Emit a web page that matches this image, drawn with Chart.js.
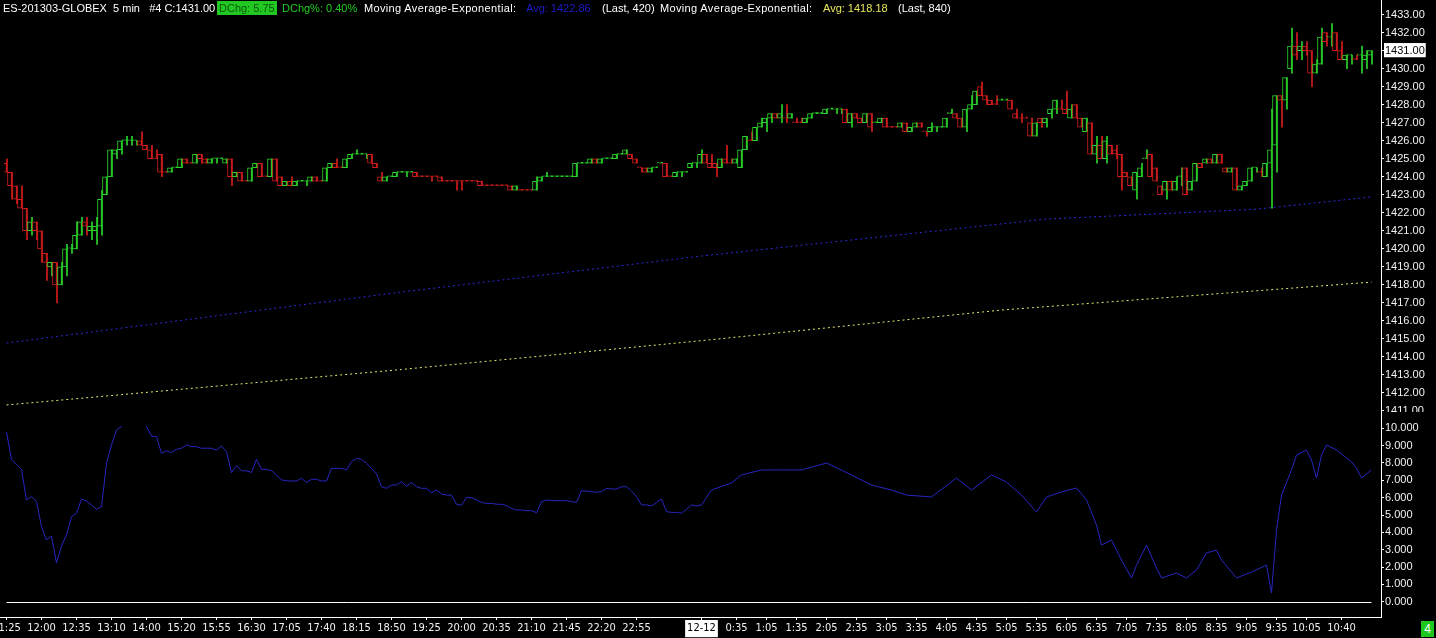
<!DOCTYPE html>
<html>
<head>
<meta charset="utf-8">
<script src="https://cdn.jsdelivr.net/npm/chart.js@4.4.0/dist/chart.umd.min.js"></script>
<style>
  html, body { margin: 0; padding: 0; background: #000; }
  body { width: 1436px; height: 638px; position: relative; overflow: hidden; font-family: "Liberation Sans", Arial, sans-serif; }
  #priceCanvas { position: absolute; left: 0; top: 0; }
  #oscCanvas { position: absolute; left: 0; top: 412px; }
  .hdr { position: absolute; top: 1px; font-size: 11px; line-height: 14px; color: #fff; white-space: pre; }
  .wide { letter-spacing: 0.35px; }
  .dchg { background: #22c822; color: #0a5a0a; padding: 0 2px; }
  .green { color: #22cc22; }
  .blue { color: #1c1cc8; }
  .yellow { color: #e6e65a; }
  #barCount { position: absolute; left: 1421px; top: 621px; width: 13px; height: 16px; background: #1fc81f; color: #fff; font-size: 12px; line-height: 16px; text-align: center; }
</style>
</head>
<body>
<canvas id="priceCanvas" width="1436" height="412" style="width:1436px;height:412px"></canvas>
<canvas id="oscCanvas" width="1436" height="226" style="width:1436px;height:226px"></canvas>

<div class="hdr" style="left:3px">ES-201303-GLOBEX  5 min   #4 C:1431.00</div>
<div class="hdr dchg" style="left:217px">DChg: 5.75</div>
<div class="hdr green" style="left:282px">DChg%: 0.40%</div>
<div class="hdr wide" style="left:364px">Moving Average-Exponential:</div>
<div class="hdr blue" style="left:526px">Avg: 1422.86</div>
<div class="hdr" style="left:602px">(Last, 420)</div>
<div class="hdr wide" style="left:660px">Moving Average-Exponential:</div>
<div class="hdr yellow" style="left:823px">Avg: 1418.18</div>
<div class="hdr" style="left:898px">(Last, 840)</div>
<div id="barCount">4</div>

<script>
// 5 minute bars, sessions of 11-12 and 12-12 (gaps = trading halts)
const sessions = [['11:25', '13:10'], ['13:30', '14:10'], ['15:00', '23:55'], ['0:00', '11:10']];

const xTickLabels = ['11:25', '12:00', '12:35', '13:10', '14:00', '15:20', '15:55', '16:30', '17:05', '17:40',
  '18:15', '18:50', '19:25', '20:00', '20:35', '21:10', '21:45', '22:20', '22:55', '12-12',
  '0:35', '1:05', '1:35', '2:05', '2:35', '3:05', '3:35', '4:05', '4:35', '5:05', '5:35', '6:05',
  '6:35', '7:05', '7:35', '8:05', '8:35', '9:05', '9:35', '10:05', '10:40'];

// OHLC, bar by bar
const opens = [
  1424.75, 1424.25, 1423.5, 1422.75, 1422.25, 1421.0, 1421.5, 1421.0, 1419.75, 1419.0,
  1419.25, 1418.0, 1419.0, 1420.0, 1420.0, 1420.75, 1421.5, 1421.0, 1421.0, 1421.25,
  1423.0, 1424.0, 1425.25, 1425.5, 1426.0, 1426.0, 1426.0, 1426.0, 1425.75, 1425.5,
  1425.0, 1425.25, 1424.25, 1424.25, 1424.5, 1424.5, 1425.0, 1424.75, 1424.75, 1425.25,
  1425.0, 1424.75, 1425.0, 1425.0, 1424.75, 1425.0, 1424.0, 1424.25, 1423.75, 1423.75,
  1424.5, 1424.75, 1424.0, 1424.0, 1425.0, 1424.0, 1423.5, 1423.75, 1423.5, 1423.75,
  1423.75, 1423.75, 1424.0, 1423.75, 1423.75, 1424.5, 1424.75, 1424.5, 1424.5, 1425.0,
  1425.25, 1425.25, 1425.25, 1425.25, 1424.75, 1424.0, 1423.75, 1424.0, 1424.0, 1424.25,
  1424.25, 1424.25, 1424.25, 1424.0, 1424.0, 1424.0, 1424.0, 1424.0, 1423.75, 1423.75,
  1423.75, 1423.75, 1423.75, 1423.75, 1423.75, 1423.75, 1423.5, 1423.5, 1423.5, 1423.5,
  1423.5, 1423.5, 1423.25, 1423.25, 1423.25, 1423.25, 1423.25, 1423.75, 1424.0, 1424.0,
  1424.0, 1424.0, 1424.0, 1424.0, 1424.0, 1424.75, 1424.75, 1424.75, 1425.0, 1424.75,
  1425.0, 1425.0, 1425.0, 1425.25, 1425.25, 1425.25, 1425.0, 1424.5, 1424.5, 1424.25,
  1424.5, 1424.75, 1424.75, 1424.0, 1424.0, 1424.25, 1424.25, 1424.5, 1424.75, 1424.75,
  1425.25, 1424.75, 1424.75, 1424.5, 1425.0, 1424.75, 1424.75, 1424.5, 1425.5, 1426.0,
  1426.0, 1426.75, 1427.0, 1427.25, 1427.5, 1427.25, 1427.25, 1427.25, 1427.0, 1427.0,
  1427.0, 1427.25, 1427.5, 1427.5, 1427.5, 1427.75, 1427.75, 1427.75, 1427.75, 1427.0,
  1427.5, 1427.25, 1427.0, 1427.5, 1427.0, 1427.0, 1427.25, 1426.75, 1426.75, 1426.75,
  1427.0, 1426.5, 1426.75, 1427.0, 1426.5, 1426.5, 1426.75, 1426.75, 1426.75, 1427.5,
  1427.5, 1427.25, 1426.75, 1427.75, 1428.0, 1429.0, 1428.5, 1428.25, 1428.0, 1428.25,
  1428.25, 1428.25, 1427.5, 1427.25, 1427.25, 1427.0, 1426.25, 1427.25, 1427.0, 1427.5,
  1427.75, 1427.75, 1427.75, 1427.25, 1428.0, 1427.25, 1426.5, 1427.0, 1425.25, 1425.75,
  1425.0, 1425.75, 1425.5, 1425.25, 1424.25, 1424.0, 1423.25, 1424.0, 1425.0, 1425.25,
  1424.5, 1423.5, 1423.25, 1423.75, 1423.25, 1424.0, 1424.5, 1423.25, 1423.75, 1424.75,
  1424.75, 1425.0, 1424.75, 1425.25, 1424.5, 1424.25, 1424.5, 1423.25, 1423.5, 1423.75,
  1424.5, 1424.25, 1424.0, 1424.75, 1425.75, 1428.5, 1428.25, 1430.0, 1431.25, 1431.0,
  1431.25, 1431.0, 1429.75, 1430.25, 1432.0, 1431.75, 1432.0, 1431.0, 1430.5, 1430.75,
  1430.5, 1430.75, 1430.5, 1430.75
];
const highs = [
  1425.0, 1424.25, 1423.5, 1423.5, 1422.25, 1421.75, 1421.5, 1421.0, 1419.75, 1419.25,
  1419.25, 1419.25, 1420.25, 1420.25, 1421.5, 1421.75, 1421.75, 1421.5, 1421.75, 1423.25,
  1424.0, 1425.5, 1425.5, 1426.0, 1426.25, 1426.25, 1426.0, 1426.5, 1425.75, 1425.75,
  1425.5, 1425.25, 1424.25, 1424.5, 1424.5, 1425.0, 1425.0, 1424.75, 1425.25, 1425.25,
  1425.0, 1425.0, 1425.0, 1425.0, 1425.0, 1425.0, 1424.25, 1424.25, 1423.75, 1424.5,
  1424.75, 1424.75, 1424.0, 1425.0, 1425.0, 1424.0, 1423.75, 1424.0, 1423.75, 1423.75,
  1423.75, 1424.0, 1424.0, 1423.75, 1424.5, 1424.75, 1425.0, 1424.5, 1425.0, 1425.25,
  1425.5, 1425.25, 1425.25, 1425.25, 1424.75, 1424.25, 1424.0, 1424.0, 1424.25, 1424.25,
  1424.25, 1424.25, 1424.25, 1424.0, 1424.0, 1424.0, 1424.0, 1424.0, 1423.75, 1423.75,
  1423.75, 1423.75, 1423.75, 1423.75, 1423.75, 1423.75, 1423.5, 1423.5, 1423.5, 1423.5,
  1423.5, 1423.5, 1423.5, 1423.25, 1423.25, 1423.25, 1424.0, 1424.0, 1424.25, 1424.0,
  1424.0, 1424.0, 1424.0, 1424.0, 1424.75, 1424.75, 1424.75, 1425.0, 1425.0, 1425.0,
  1425.0, 1425.0, 1425.25, 1425.25, 1425.5, 1425.25, 1425.0, 1424.5, 1424.5, 1424.5,
  1424.5, 1424.75, 1424.75, 1424.0, 1424.25, 1424.25, 1424.25, 1424.75, 1424.75, 1425.5,
  1425.25, 1425.25, 1424.75, 1425.0, 1425.75, 1425.0, 1425.0, 1425.5, 1426.25, 1426.5,
  1426.75, 1427.25, 1427.25, 1427.5, 1427.5, 1428.0, 1428.0, 1427.5, 1427.25, 1427.25,
  1427.25, 1427.5, 1427.5, 1427.5, 1427.75, 1427.75, 1427.75, 1427.75, 1427.75, 1427.5,
  1427.5, 1427.25, 1427.5, 1427.5, 1427.0, 1427.25, 1427.25, 1426.75, 1426.75, 1427.0,
  1427.0, 1426.75, 1427.0, 1427.0, 1426.5, 1427.0, 1426.75, 1426.75, 1427.25, 1427.75,
  1427.5, 1427.25, 1427.75, 1428.5, 1428.75, 1429.25, 1428.5, 1428.25, 1428.5, 1428.25,
  1428.25, 1428.25, 1427.75, 1427.5, 1427.25, 1427.25, 1427.0, 1427.25, 1427.25, 1427.75,
  1428.25, 1428.25, 1428.75, 1428.0, 1428.0, 1427.25, 1427.25, 1427.0, 1426.25, 1426.25,
  1426.25, 1425.75, 1425.75, 1425.25, 1424.25, 1424.0, 1424.25, 1424.75, 1425.5, 1425.25,
  1424.5, 1423.5, 1423.75, 1423.75, 1424.0, 1424.5, 1424.5, 1423.75, 1424.75, 1424.75,
  1425.0, 1425.0, 1425.25, 1425.25, 1424.5, 1424.5, 1424.5, 1423.5, 1423.75, 1424.5,
  1424.5, 1424.5, 1424.75, 1427.75, 1428.5, 1428.5, 1429.5, 1432.25, 1432.0, 1431.5,
  1431.5, 1431.0, 1430.5, 1432.25, 1432.0, 1432.5, 1432.0, 1431.5, 1430.75, 1430.75,
  1430.75, 1431.25, 1431.0, 1431.0
];
const lows = [
  1424.25, 1422.75, 1422.5, 1422.25, 1420.5, 1420.75, 1420.5, 1419.25, 1418.25, 1418.5,
  1417.0, 1418.0, 1418.5, 1419.75, 1420.0, 1420.75, 1420.75, 1420.5, 1420.25, 1420.75,
  1423.0, 1424.0, 1425.0, 1425.25, 1425.75, 1425.75, 1425.75, 1425.75, 1425.5, 1425.0,
  1425.0, 1424.0, 1424.25, 1424.25, 1424.5, 1424.5, 1424.75, 1424.75, 1424.75, 1424.75,
  1424.75, 1424.75, 1424.75, 1425.0, 1424.75, 1423.5, 1424.0, 1423.75, 1423.75, 1423.75,
  1424.5, 1424.0, 1424.0, 1424.0, 1423.75, 1423.5, 1423.5, 1423.5, 1423.5, 1423.75,
  1423.5, 1423.75, 1423.75, 1423.75, 1423.75, 1424.5, 1424.5, 1424.5, 1424.5, 1425.0,
  1425.25, 1425.25, 1425.0, 1424.75, 1424.5, 1423.75, 1423.75, 1424.0, 1424.0, 1424.25,
  1424.0, 1424.25, 1424.0, 1424.0, 1424.0, 1423.75, 1424.0, 1423.75, 1423.75, 1423.75,
  1423.25, 1423.25, 1423.75, 1423.75, 1423.75, 1423.5, 1423.5, 1423.5, 1423.5, 1423.5,
  1423.5, 1423.25, 1423.25, 1423.25, 1423.25, 1423.25, 1423.25, 1423.75, 1424.0, 1424.0,
  1424.0, 1424.0, 1424.0, 1424.0, 1424.0, 1424.75, 1424.75, 1424.75, 1424.75, 1424.75,
  1425.0, 1425.0, 1425.0, 1425.25, 1425.25, 1425.0, 1424.75, 1424.25, 1424.25, 1424.25,
  1424.5, 1424.75, 1424.0, 1424.0, 1424.0, 1424.0, 1424.25, 1424.5, 1424.5, 1424.75,
  1424.75, 1424.5, 1424.0, 1424.5, 1424.75, 1424.75, 1424.75, 1424.5, 1425.5, 1426.0,
  1426.0, 1426.75, 1426.5, 1427.0, 1427.25, 1427.0, 1427.0, 1427.25, 1427.0, 1427.0,
  1427.0, 1427.25, 1427.5, 1427.5, 1427.5, 1427.75, 1427.5, 1427.5, 1427.0, 1426.75,
  1427.25, 1427.0, 1427.0, 1426.5, 1427.0, 1427.0, 1426.75, 1426.75, 1426.75, 1426.75,
  1426.5, 1426.5, 1426.75, 1426.75, 1426.25, 1426.5, 1426.5, 1426.75, 1426.75, 1427.5,
  1427.25, 1426.75, 1426.5, 1427.75, 1428.0, 1428.5, 1428.0, 1428.0, 1428.0, 1428.25,
  1428.25, 1427.75, 1427.25, 1427.0, 1427.25, 1426.25, 1426.25, 1426.75, 1426.75, 1427.25,
  1427.5, 1427.75, 1427.5, 1427.25, 1427.25, 1426.75, 1426.5, 1425.25, 1424.75, 1425.0,
  1424.75, 1425.25, 1425.0, 1423.25, 1424.0, 1423.5, 1422.75, 1424.0, 1425.0, 1424.0,
  1423.75, 1423.0, 1422.75, 1423.25, 1423.25, 1423.5, 1423.0, 1423.25, 1423.75, 1424.5,
  1424.75, 1424.75, 1424.75, 1424.75, 1424.25, 1424.25, 1423.25, 1423.25, 1423.5, 1423.75,
  1424.25, 1424.0, 1424.0, 1422.25, 1424.25, 1426.75, 1427.75, 1429.75, 1430.5, 1430.5,
  1430.75, 1429.0, 1429.75, 1430.25, 1431.25, 1431.25, 1431.0, 1430.5, 1430.0, 1430.25,
  1430.5, 1429.75, 1430.0, 1430.25
];
const closes = [
  1424.25, 1423.5, 1422.75, 1422.25, 1421.0, 1421.5, 1421.0, 1420.0, 1419.25, 1419.25,
  1418.0, 1419.0, 1420.0, 1420.0, 1420.75, 1421.5, 1421.25, 1421.25, 1421.25, 1422.75,
  1424.0, 1425.5, 1425.5, 1426.0, 1426.0, 1426.0, 1426.0, 1425.75, 1425.5, 1425.0,
  1425.0, 1424.25, 1424.25, 1424.5, 1424.5, 1425.0, 1424.75, 1424.75, 1425.25, 1425.0,
  1424.75, 1425.0, 1425.0, 1425.0, 1425.0, 1424.0, 1424.25, 1423.75, 1423.75, 1424.5,
  1424.75, 1424.0, 1424.0, 1425.0, 1423.75, 1423.5, 1423.75, 1423.5, 1423.75, 1423.75,
  1423.75, 1424.0, 1423.75, 1423.75, 1424.5, 1424.75, 1424.5, 1424.5, 1425.0, 1425.25,
  1425.25, 1425.25, 1425.25, 1424.75, 1424.5, 1423.75, 1424.0, 1424.0, 1424.25, 1424.25,
  1424.25, 1424.25, 1424.0, 1424.0, 1424.0, 1424.0, 1424.0, 1423.75, 1423.75, 1423.75,
  1423.75, 1423.75, 1423.75, 1423.75, 1423.75, 1423.5, 1423.5, 1423.5, 1423.5, 1423.5,
  1423.5, 1423.25, 1423.5, 1423.25, 1423.25, 1423.25, 1423.75, 1424.0, 1424.0, 1424.0,
  1424.0, 1424.0, 1424.0, 1424.0, 1424.75, 1424.75, 1424.75, 1425.0, 1424.75, 1425.0,
  1425.0, 1425.0, 1425.25, 1425.25, 1425.5, 1425.0, 1424.75, 1424.5, 1424.25, 1424.5,
  1424.5, 1424.75, 1424.0, 1424.0, 1424.25, 1424.25, 1424.25, 1424.75, 1424.75, 1425.25,
  1424.75, 1424.5, 1424.5, 1425.0, 1424.75, 1424.75, 1425.0, 1425.5, 1426.25, 1426.0,
  1426.75, 1427.0, 1427.25, 1427.5, 1427.25, 1427.5, 1427.25, 1427.5, 1427.0, 1427.0,
  1427.25, 1427.5, 1427.5, 1427.5, 1427.75, 1427.75, 1427.75, 1427.75, 1427.0, 1427.5,
  1427.25, 1427.0, 1427.5, 1426.75, 1427.0, 1427.25, 1426.75, 1426.75, 1426.75, 1427.0,
  1426.5, 1426.75, 1427.0, 1426.75, 1426.5, 1426.75, 1426.75, 1426.75, 1427.25, 1427.5,
  1427.25, 1426.75, 1427.75, 1428.0, 1428.75, 1428.5, 1428.25, 1428.0, 1428.0, 1428.25,
  1428.25, 1427.75, 1427.25, 1427.25, 1427.25, 1426.25, 1427.0, 1427.0, 1427.25, 1427.75,
  1428.25, 1427.75, 1427.5, 1427.75, 1427.25, 1426.75, 1427.25, 1425.25, 1425.75, 1425.0,
  1426.0, 1425.25, 1425.25, 1424.0, 1424.0, 1423.5, 1424.25, 1424.5, 1425.0, 1424.0,
  1423.75, 1423.0, 1423.75, 1423.25, 1423.75, 1424.0, 1423.0, 1423.75, 1424.75, 1424.5,
  1425.0, 1424.75, 1425.25, 1424.75, 1424.25, 1424.5, 1423.25, 1423.5, 1423.75, 1424.5,
  1424.5, 1424.25, 1424.75, 1425.5, 1428.5, 1428.25, 1429.5, 1431.25, 1430.75, 1431.25,
  1431.0, 1429.75, 1430.25, 1431.75, 1431.5, 1431.75, 1431.0, 1430.5, 1430.75, 1430.75,
  1430.5, 1430.75, 1430.75, 1431.0
];
// bars where open == close but the bar is painted as a down bar
const redDoji = [30, 32, 37, 48, 52, 63, 67, 83, 84, 85, 86, 88, 89, 90, 91, 92, 93, 94, 96, 97, 98, 99, 100,
  103, 104, 105, 127, 133, 145, 149, 156, 158, 159, 177, 178, 184, 198, 203, 204, 211, 251, 270];

// exponential moving averages (read at a few bars)
const emaFastBars = [0, 37, 79, 139, 208, 250, 273];
const emaFast = [1414.77, 1416.1, 1417.6, 1419.6, 1421.65, 1422.2, 1422.88];
const emaSlowBars = [0, 79, 139, 199, 273];
const emaSlow = [1411.33, 1413.3, 1414.9, 1416.6, 1418.15];

// lower panel oscillator
const oscValues = [
  9.8, 8.2, 7.9, 7.63, 5.87, 6.06, 5.77, 4.33, 3.56, 3.79,
  2.25, 3.21, 3.85, 4.9, 5.1, 5.92, 5.81, 5.58, 5.33, 5.48,
  7.98, 9.04, 9.9, 10.1, 10.8, 11.2, 11.0, 10.6, 10.1, 9.55,
  9.52, 8.56, 8.7, 8.6, 8.79, 8.85, 9.04, 8.94, 8.94, 8.85,
  8.85, 8.85, 8.75, 8.98, 8.65, 7.44, 7.85, 7.56, 7.54, 7.46,
  8.21, 7.63, 7.63, 7.56, 7.31, 7.02, 6.98, 6.96, 6.96, 7.12,
  6.87, 7.06, 7.06, 6.96, 6.96, 7.69, 7.69, 7.69, 7.6, 8.08,
  8.27, 8.21, 7.98, 7.69, 7.37, 6.63, 6.54, 6.73, 6.73, 6.92,
  6.67, 6.87, 6.63, 6.54, 6.54, 6.29, 6.44, 6.21, 6.15, 6.15,
  5.62, 5.56, 6.02, 6.0, 5.87, 5.73, 5.67, 5.67, 5.62, 5.62,
  5.54, 5.38, 5.29, 5.29, 5.25, 5.25, 5.13, 5.77, 5.87, 5.83,
  5.83, 5.83, 5.83, 5.77, 5.73, 6.4, 6.38, 6.35, 6.31, 6.35,
  6.54, 6.5, 6.5, 6.63, 6.63, 6.38, 6.06, 5.58, 5.58, 5.52,
  5.71, 5.92, 5.19, 5.15, 5.15, 5.1, 5.33, 5.58, 5.52, 5.58,
  null, 6.44, null, null, null, 6.85, null, 7.31, null, null,
  null, 7.6, null, null, null, 7.6, null, null, null, 7.6,
  null, null, null, null, 8.0, null, null, null, null, 7.31,
  null, null, null, 6.73, null, null, null, 6.44, null, null,
  6.15, null, null, null, null, 6.04, null, null, null, null,
  7.13, null, null, 6.44, null, null, null, 7.31, null, null,
  6.9, null, null, 6.15, null, null, 5.17, null, 6.04, null,
  null, 6.33, null, null, 6.56, null, 5.87, null, 4.42, 3.27,
  null, 3.56, null, 2.4, null, 1.37, 2.1, null, 3.27, null,
  1.94, 1.37, null, null, 1.65, null, 1.37, null, 1.83, null,
  2.81, null, 2.98, 2.4, null, null, 1.37, null, null, 1.71,
  null, null, 2.11, 0.5, 4.13, 6.15, null, 7.6, 8.46, null,
  8.75, 8.17, 7.13, 8.46, 9.04, null, 8.75, null, null, 8.06,
  7.71, 7.13, null, 7.6
];

// ---- build categories (bar times) ----
function toMin(s) { const p = s.split(':'); return (+p[0]) * 60 + (+p[1]); }
function fmtMin(m) { const h = Math.floor(m / 60), mm = m % 60; return h + ':' + (mm < 10 ? '0' : '') + mm; }
const barTimes = [];
sessions.forEach(([a, b]) => {
  for (let t = toMin(a); t <= toMin(b); t += 5) barTimes.push(fmtMin(t));
});
const tickIndex = xTickLabels.map(l => barTimes.indexOf(l === '12-12' ? '0:00' : l));
const lastClose = closes[closes.length - 1];

const upColor = '#2ad42a';
const downColor = '#d41c1c';
function isUp(i) {
  if (closes[i] > opens[i]) return true;
  if (closes[i] < opens[i]) return false;
  return !redDoji.includes(i);
}

const xMin = -0.5, xMax = 274.9;
const axisFont = { family: '"Liberation Sans", Arial, sans-serif', size: 11 };
const timeFont = { family: '"Liberation Sans Narrow", "DejaVu Sans Condensed", "Liberation Sans", sans-serif', size: 11 };

// keep chart areas where they are: no extra room for the end labels
function noLabelPadding(s) {
  s.paddingTop = 0; s.paddingBottom = 0; s.paddingLeft = 0; s.paddingRight = 0;
}

// right axis line runs the whole height of each canvas
const axisLine = {
  id: 'axisLine',
  afterDraw(chart) {
    const { ctx, chartArea } = chart;
    ctx.save();
    ctx.strokeStyle = '#fff';
    ctx.lineWidth = 1;
    ctx.beginPath();
    ctx.moveTo(chartArea.right + 0.5, 0);
    ctx.lineTo(chartArea.right + 0.5, chart.options.fullAxis ? chart.height : chartArea.bottom);
    ctx.stroke();
    ctx.restore();
  }
};

// ---- price panel ----
new Chart(document.getElementById('priceCanvas'), {
  type: 'bar',
  data: {
    datasets: [
      {
        label: 'body',
        data: opens.map((o, i) => ({ x: i, y: [o, closes[i]] })),
        order: 0,
        barThickness: 4,
        minBarLength: 1,
        borderWidth: 1,
        borderSkipped: false,
        borderColor: ctx => isUp(ctx.dataIndex) ? upColor : downColor,
        backgroundColor: '#000'
      },
      {
        label: 'wick',
        data: highs.map((h, i) => ({ x: i, y: [lows[i], h] })),
        order: 1,
        barThickness: 1,
        minBarLength: 1,
        borderWidth: 0,
        backgroundColor: ctx => isUp(ctx.dataIndex) ? upColor : downColor
      },
      {
        type: 'line',
        label: 'EMA 420',
        data: emaFastBars.map((b, k) => ({ x: b, y: emaFast[k] })),
        order: 2,
        borderColor: '#2a2ad6',
        borderWidth: 1,
        borderDash: [2, 3],
        pointRadius: 0
      },
      {
        type: 'line',
        label: 'EMA 840',
        data: emaSlowBars.map((b, k) => ({ x: b, y: emaSlow[k] })),
        order: 3,
        borderColor: '#e6e670',
        borderWidth: 1,
        borderDash: [2, 3],
        pointRadius: 0
      }
    ]
  },
  options: {
    responsive: false,
    animation: false,
    devicePixelRatio: 1,
    fullAxis: true,
    layout: { padding: { left: 4, top: 4, right: 0, bottom: 0 } },
    plugins: { legend: { display: false }, tooltip: { enabled: false } },
    scales: {
      x: { type: 'linear', min: xMin, max: xMax, offset: false, display: false },
      y: {
        position: 'right',
        min: 1410.94,
        max: 1433.59,
        afterFit: s => { s.width = 55; noLabelPadding(s); },
        afterBuildTicks: s => { s.ticks = s.ticks.filter(t => Number.isInteger(t.value)); },
        ticks: {
          stepSize: 1,
          includeBounds: false,
          padding: 1,
          font: axisFont,
          color: ctx => ctx.tick && ctx.tick.value === lastClose ? '#000' : '#f2f2f2',
          showLabelBackdrop: ctx => !!(ctx.tick && ctx.tick.value === lastClose),
          backdropColor: '#fff',
          backdropPadding: { left: 1, right: 1, top: 1, bottom: 0 },
          callback: v => v.toFixed(2)
        },
        grid: { drawOnChartArea: false, color: '#fff', tickLength: 3 },
        border: { color: '#fff' }
      }
    }
  },
  plugins: [axisLine]
});

// ---- oscillator panel ----
const oscLines = {
  id: 'oscLines',
  afterDatasetsDraw(chart) {
    const { ctx, chartArea, scales } = chart;
    const y0 = Math.round(scales.y.getPixelForValue(0)) + 0.5;
    const yb = Math.round(chartArea.bottom) + 0.5;
    ctx.save();
    ctx.strokeStyle = '#fff';
    ctx.lineWidth = 1;
    ctx.beginPath();
    // zero line under the bars
    ctx.moveTo(scales.x.getPixelForValue(0), y0);
    ctx.lineTo(scales.x.getPixelForValue(closes.length - 1), y0);
    // time axis line from the left edge
    ctx.moveTo(0, yb);
    ctx.lineTo(chartArea.left, yb);
    ctx.stroke();
    ctx.restore();
  }
};

new Chart(document.getElementById('oscCanvas'), {
  type: 'line',
  data: {
    datasets: [{
      label: 'osc',
      data: oscValues.map((v, i) => ({ x: i, y: v })),
      borderColor: '#2626c0',
      borderWidth: 1,
      pointRadius: 0,
      spanGaps: true,
      tension: 0
    }]
  },
  options: {
    responsive: false,
    animation: false,
    devicePixelRatio: 1,
    fullAxis: false,
    layout: { padding: { left: 4, top: 14, right: 0, bottom: 0 } },
    plugins: { legend: { display: false }, tooltip: { enabled: false } },
    scales: {
      x: {
        type: 'linear',
        min: xMin,
        max: xMax,
        offset: false,
        afterFit: s => { s.height = 21; noLabelPadding(s); },
        afterBuildTicks: s => { s.ticks = tickIndex.map(v => ({ value: v })); },
        ticks: {
          autoSkip: false,
          maxRotation: 0,
          minRotation: 0,
          padding: 2,
          font: timeFont,
          color: ctx => ctx.tick && xTickLabels[tickIndex.indexOf(ctx.tick.value)] === '12-12' ? '#000' : '#f2f2f2',
          showLabelBackdrop: ctx => !!(ctx.tick && xTickLabels[tickIndex.indexOf(ctx.tick.value)] === '12-12'),
          backdropColor: '#fff',
          backdropPadding: { left: 2, right: 2, top: 2, bottom: 2 },
          callback: v => xTickLabels[tickIndex.indexOf(v)]
        },
        grid: { drawOnChartArea: false, color: '#fff', tickLength: 3 },
        border: { color: '#fff' }
      },
      y: {
        position: 'right',
        min: -0.882,
        max: 10.133,
        afterFit: s => { s.width = 55; noLabelPadding(s); },
        afterBuildTicks: s => { s.ticks = s.ticks.filter(t => t.value >= 0 && t.value <= 10 && Number.isInteger(t.value)); },
        ticks: {
          stepSize: 1,
          includeBounds: false,
          padding: 1,
          font: axisFont,
          color: '#f2f2f2',
          callback: v => v.toFixed(3)
        },
        grid: { drawOnChartArea: false, color: '#fff', tickLength: 3 },
        border: { color: '#fff' }
      }
    }
  },
  plugins: [oscLines, axisLine]
});
</script>
</body>
</html>
